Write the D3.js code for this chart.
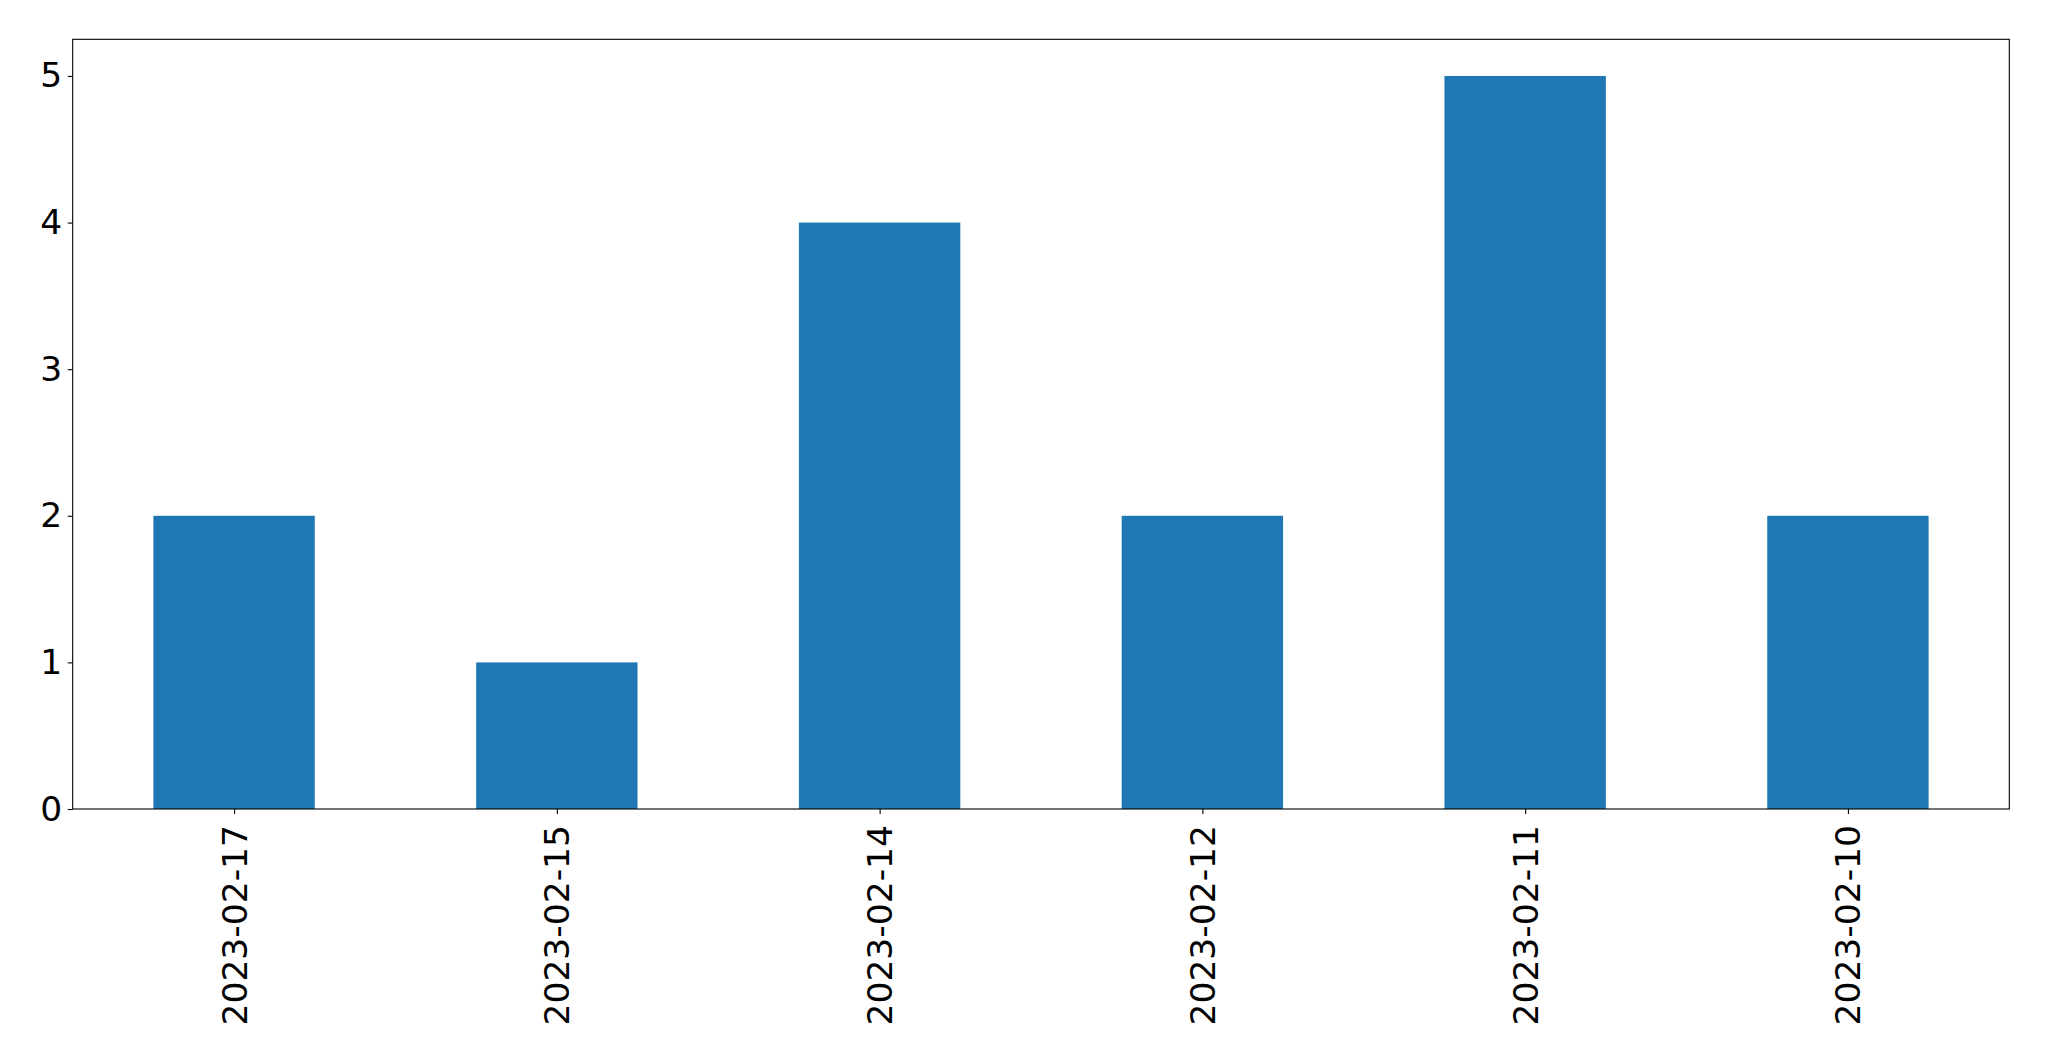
<!DOCTYPE html>
<html><head><meta charset="utf-8">
<script src="https://cdn.jsdelivr.net/npm/d3@7"></script>
<style>body{margin:0;background:#fff}svg{display:block}text{font-family:"DejaVu Sans",sans-serif}</style>
</head><body>
<script>
const categories = ["2023-02-17","2023-02-15","2023-02-14","2023-02-12","2023-02-11","2023-02-10"];
const values = [2,1,4,2,5,2];
const yTicks = [0,1,2,3,4,5];

const W = 2049, H = 1061;
const m = {left:72.7, right:2049-2009.3, top:39.3, bottom:1061-809};
const svg = d3.select("body").append("svg").attr("width",W).attr("height",H);
const iw = W-m.left-m.right, ih = H-m.top-m.bottom;
const g = svg.append("g").attr("transform",`translate(${m.left},${m.top})`);

const x = d3.scaleLinear().domain([-0.5, categories.length-0.5]).range([0, iw]);
const y = d3.scaleLinear().domain([0, d3.max(values)*1.05]).range([ih, 0]);
const bw = x(0.25)-x(-0.25);

g.selectAll("rect.bar").data(values).join("rect").attr("class","bar")
  .attr("x",(d,i)=>x(i)-bw/2).attr("width",bw)
  .attr("y",d=>y(d)).attr("height",d=>y(0)-y(d)).attr("fill","#1f77b4");

const fs = 34.5;
const yAxis = g.append("g").call(d3.axisLeft(y).tickValues(yTicks).tickFormat(d3.format("d")).tickSize(4.9).tickPadding(5.5));
yAxis.select(".domain").remove();
yAxis.selectAll("text").attr("font-size",fs).attr("fill","#000").attr("font-family","DejaVu Sans");
yAxis.selectAll("line").attr("stroke","#000").attr("stroke-width",1.1);

const xAxis = g.append("g").attr("transform",`translate(0,${ih})`)
  .call(d3.axisBottom(x).tickValues(d3.range(categories.length)).tickFormat(i=>categories[i]).tickSize(4.9).tickPadding(5));
xAxis.select(".domain").remove();
xAxis.selectAll("line").attr("stroke","#000").attr("stroke-width",1.1);
xAxis.selectAll("text").attr("font-size",fs).attr("fill","#000").attr("font-family","DejaVu Sans")
  .attr("transform","rotate(-90)").attr("text-anchor","end")
  .attr("x",-16).attr("y",0).attr("dy","0.35em");

g.append("rect").attr("x",0).attr("y",0).attr("width",iw).attr("height",ih)
  .attr("fill","none").attr("stroke","#000").attr("stroke-width",1.1);
</script>
</body></html>
